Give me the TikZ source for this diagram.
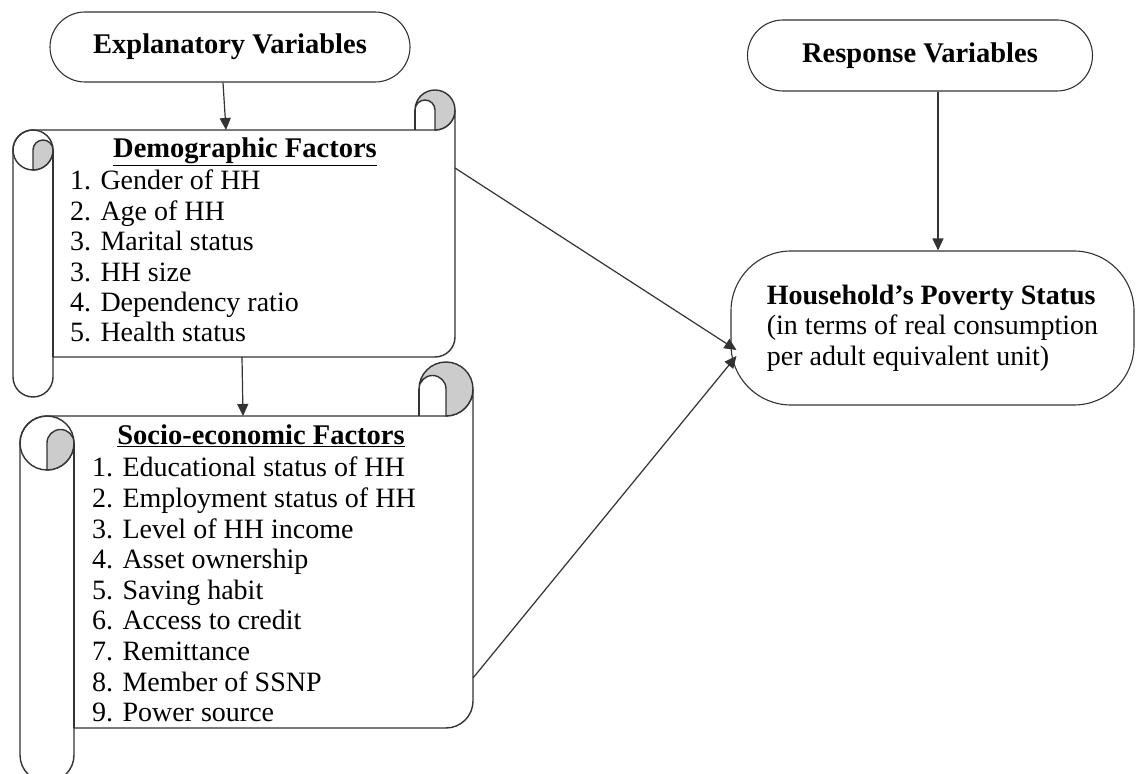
\documentclass[tikz,border=0pt]{standalone}
\usepackage{fontspec}
\setmainfont{Liberation Serif}
\usetikzlibrary{arrows.meta,shapes.misc}

\definecolor{curl}{gray}{0.8}
\definecolor{inkline}{gray}{0.2}

\tikzset{
  scroll line/.style={draw=inkline,line width=1.4pt},
  sheet/.style={inner sep=0pt,outer sep=0pt},
  terminal/.style={rounded rectangle,draw=inkline,line width=1.1pt,inner sep=0pt,
    font=\fontsize{28.5}{32}\selectfont\bfseries},
  item/.style={anchor=base west,inner sep=0pt,font=\fontsize{28}{30.5}\selectfont},
  heading/.style={anchor=base,inner sep=0pt,font=\fontsize{28.5}{32}\selectfont\bfseries},
  link/.style={draw=inkline,line width=1.2pt,-{Triangle[length=12pt,width=11pt]}},
}

% scroll drawn round the sheet node #1, roll size #2
\newcommand{\drawscroll}[2]{%
  \pgfpointanchor{#1}{south west}\pgfgetlastxy{\scL}{\scB}%
  \pgfpointanchor{#1}{north east}\pgfgetlastxy{\scR}{\scT}%
  \draw[scroll line,fill=white] (\scR,{\scT+#2/2}) -- (\scR,{\scB+#2/2})
    arc[start angle=0,end angle=-90,radius=#2/2] -- ({\scL+#2},\scB)
    -- ({\scL+#2},{\scB-#2/2}) arc[start angle=0,end angle=-180,radius=#2/2]
    -- (\scL,{\scT-#2/2}) arc[start angle=180,end angle=90,radius=#2/2]
    -- ({\scR-#2/2},\scT) arc[start angle=-90,end angle=0,radius=#2/2] -- cycle;
  \draw[scroll line] ({\scL+#2},\scB) -- ({\scL+#2},{\scT-#2/2});
  \draw[scroll line] ({\scL+#2/2},{\scT-#2/2}) circle[radius=#2/2];
  \draw[scroll line,fill=curl] ({\scL+#2/2},{\scT-#2})
    arc[start angle=-90,end angle=0,radius=#2/2]
    arc[start angle=0,end angle=180,radius=#2/4] -- cycle;
  \draw[scroll line,fill=curl] ({\scR-#2},{\scT+#2/2})
    arc[start angle=180,end angle=0,radius=#2/2]
    arc[start angle=0,end angle=-90,radius=#2/2] -- ({\scR-#2/2},{\scT+#2/2})
    arc[start angle=0,end angle=180,radius=#2/4] -- cycle;
  \draw[scroll line] ({\scR-#2},\scT) -- ({\scR-#2},{\scT+#2/2});
}

\begin{document}
\begin{tikzpicture}[x=1pt,y=1pt]
  \useasboundingbox[fill=white] (0,0) rectangle (1136,774);

  % sheets of the two scrolls
  \node[sheet,minimum width=442pt,minimum height=227pt] (demo) at (234,530.5) {};
  \node[sheet,minimum width=453pt,minimum height=312pt] (socio) at (246.5,202) {};
  \drawscroll{demo}{40}
  \drawscroll{socio}{54}

  \node[terminal,minimum width=360pt,minimum height=70pt] (expl) at (230,727) {Explanatory Variables};
  \node[terminal,minimum width=345pt,minimum height=71pt] (resp) at (920,718.5) {Response Variables};
  \node[draw=inkline,line width=1.1pt,rounded corners=60pt,minimum width=403pt,minimum height=154pt,
    align=left,font=\fontsize{28}{30.5}\selectfont] (house) at (932.5,446)
    {\textbf{Household’s Poverty Status}\\(in terms of real consumption\\per adult equivalent unit)};

  \node[heading] (demotitle) at (245,616) {\underline{Demographic Factors}};
  \foreach \t [count=\i] in {1. Gender of HH,2. Age of HH,3. Marital status,3. HH size,
      4. Dependency ratio,5. Health status}
    \node[item] (demo\i) at (70,{584-30.4*(\i-1)}) {\t};

  \node[heading] (sociotitle) at (261,329) {\underline{Socio-economic Factors}};
  \foreach \t [count=\i] in {1. Educational status of HH,2. Employment status of HH,
      3. Level of HH income,4. Asset ownership,5. Saving habit,6. Access to credit,
      7. Remittance,8. Member of SSNP,9. Power source}
    \node[item] (socio\i) at (92,{297-30.6*(\i-1)}) {\t};

  \draw[link] ([xshift=-7pt]expl.south) -- ([xshift=-4pt]expl.south |- demo.north);
  \draw[link] ([xshift=8pt]demo.south) -- ([xshift=9pt]demo.south |- socio.north);
  \draw[link] ([xshift=18pt]resp.south) -- ([xshift=18pt]resp.south |- house.north);
  \draw[link] ([yshift=-38pt]demo.north east) -- ([xshift=6pt,yshift=-22pt]house.west);
  \draw[link] ([yshift=50pt]socio.south east) -- ([xshift=6pt,yshift=-28pt]house.west);

\end{tikzpicture}
\end{document}
